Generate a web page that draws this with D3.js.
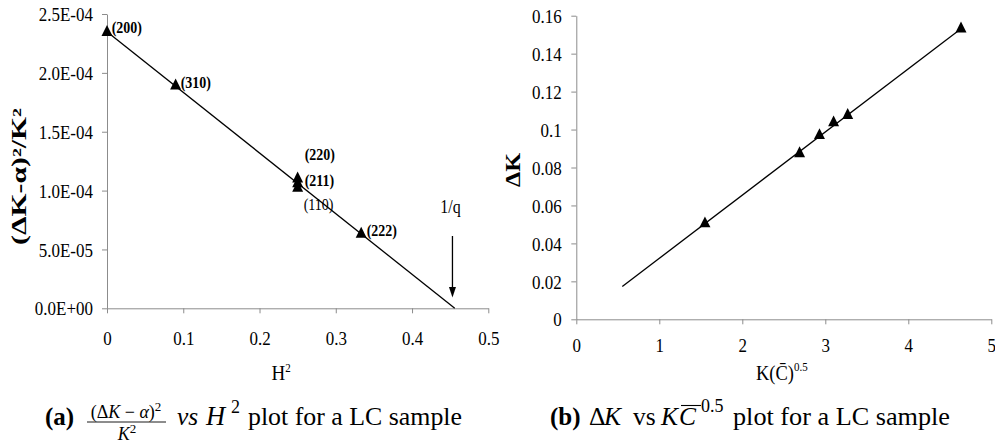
<!DOCTYPE html>
<html><head><meta charset="utf-8">
<script src="https://cdn.jsdelivr.net/npm/d3@7/dist/d3.min.js"></script>
<style>
html,body{margin:0;padding:0;background:#fff;}
svg{display:block;}
</style></head>
<body>
<svg id="chart" width="995" height="446"></svg>
<script>
// ---------- Data: panel (a) ----------
const hklLabels = ["(200)", "(310)", "(220)", "(211)", "(110)", "(222)"];
const hklBold   = [true, true, true, true, false, true];
const h2Values  = [0, 0.09, 0.25, 0.25, 0.25, 0.3333];
const yAValues  = [2.345e-4, 1.89e-4, 1.10e-4, 1.06e-4, 1.02e-4, 6.3e-5];
const fitAX     = [0, 0.456];
const fitAY     = [2.35e-4, 0];
const arrowQX   = 0.453;
const xTicksA   = [0, 0.1, 0.2, 0.3, 0.4, 0.5];
const yTicksA   = [0, 5e-5, 1e-4, 1.5e-4, 2e-4, 2.5e-4];

// ---------- Data: panel (b) ----------
const kcValues  = [1.55, 2.69, 2.93, 3.10, 3.27, 4.635];
const dKValues  = [0.0504, 0.0873, 0.0969, 0.1036, 0.1075, 0.1531];
const fitBX     = [0.554, 4.635];
const fitBY     = [0.0173, 0.1531];
const xTicksB   = [0, 1, 2, 3, 4, 5];
const yTicksB   = [0, 0.02, 0.04, 0.06, 0.08, 0.1, 0.12, 0.14, 0.16];

const serif = "'Liberation Serif','Times New Roman',serif";
const axisGray = "#8c8c8c";
const svg = d3.select("#chart");
const SY = 1.12; // vertical stretch of chart texts

function sciFmt(v) {
  if (v === 0) return "0.0E+00";
  const e = Math.floor(Math.log10(Math.abs(v)) + 1e-9);
  const m = v / Math.pow(10, e);
  const sign = e < 0 ? "-" : "+";
  const ae = Math.abs(e);
  return m.toFixed(1) + "E" + sign + (ae < 10 ? "0" : "") + ae;
}

function styleAxis(g, fs) {
  g.select(".domain").attr("stroke", axisGray);
  g.selectAll(".tick line").attr("stroke", axisGray);
  g.selectAll(".tick text").attr("fill", "#000").style("font-family", serif).style("font-size", fs + "px");
}

function txt(parent, x, y, s, o) {
  o = o || {};
  const t = parent.append("text").attr("x", x).attr("y", y).text(s)
    .style("font-family", serif)
    .style("font-size", (o.size || 16) + "px")
    .style("font-weight", o.weight || "normal")
    .style("font-style", o.style || "normal")
    .attr("text-anchor", o.anchor || "start")
    .attr("fill", "#000");
  return t;
}
function stxt(parent, x, y, s, o) {
  return txt(parent, 0, 0, s, o).attr("transform", `translate(${x},${y}) scale(1,${SY})`);
}

// ================= Panel (a) =================
const xA = d3.scaleLinear().domain([0, 0.5]).range([107, 488.3]);
const yA = d3.scaleLinear().domain([0, 2.5e-4]).range([308.3, 14]);
const gA = svg.append("g");

gA.append("g").attr("transform", `translate(0,${yA(0)})`)
  .call(d3.axisBottom(xA).tickValues(xTicksA).tickFormat(d3.format("")).tickSize(5).tickSizeOuter(0))
  .call(g => styleAxis(g, 17))
  .call(g => g.selectAll(".tick text").attr("y", 0).attr("dy", "0.35em").attr("transform", `translate(0,30) scale(1,${SY})`));

gA.append("g").attr("transform", `translate(${xA(0)},0)`)
  .call(d3.axisLeft(yA).tickValues(yTicksA).tickFormat(sciFmt).tickSize(5).tickSizeOuter(0).tickPadding(9))
  .call(g => styleAxis(g, 17))
  .call(g => g.selectAll(".tick text").attr("dy", "0.35em").attr("transform", `scale(1,${SY})`));

gA.append("path")
  .datum(fitAX.map((x, i) => [x, fitAY[i]]))
  .attr("d", d3.line().x(d => xA(d[0])).y(d => yA(d[1])))
  .attr("stroke", "#000").attr("stroke-width", 1.3).attr("fill", "none");

const tri = d3.symbol().type(d3.symbolTriangle).size(52);
gA.selectAll(".ptA").data(h2Values).join("path")
  .attr("d", tri)
  .attr("transform", (d, i) => `translate(${xA(d)},${yA(yAValues[i])}) scale(1,1.15)`)
  .attr("fill", "#000");

const hklDx = [4.7, 5, 7, 7, 6, 5.5];
const hklDy = [-5, -3, -24, -3, 16, -4];
h2Values.forEach((d, i) => {
  stxt(gA, xA(d) + hklDx[i], yA(yAValues[i]) + hklDy[i], hklLabels[i],
      {size: 14, weight: hklBold[i] ? "bold" : "normal"}).attr("dy", "0.35em");
});

const ax = xA(arrowQX);
gA.append("line").attr("x1", ax).attr("x2", ax).attr("y1", 236).attr("y2", 288)
  .attr("stroke", "#000").attr("stroke-width", 1.3);
gA.append("path").attr("d", `M${ax - 3.5},287 L${ax + 3.5},287 L${ax},297.5 Z`).attr("fill", "#000");
stxt(gA, ax - 2, 213, "1/q", {size: 16, anchor: "middle"});

const xtA = stxt(gA, 271.5, 380, "H", {size: 19});
xtA.append("tspan").attr("dy", -7).style("font-size", "11px").text("2");
txt(gA, 0, 0, "(ΔK-α)²/K²", {size: 20, weight: "bold", anchor: "middle"})
  .attr("transform", "translate(26,176.5) rotate(-90)")
  .attr("textLength", 137).attr("lengthAdjust", "spacingAndGlyphs");

// ================= Panel (b) =================
const xB = d3.scaleLinear().domain([0, 5]).range([576.3, 991.3]);
const yB = d3.scaleLinear().domain([0, 0.16]).range([319.3, 15.7]);
const gB = svg.append("g");

gB.append("g").attr("transform", `translate(0,${yB(0)})`)
  .call(d3.axisBottom(xB).tickValues(xTicksB).tickFormat(d3.format("")).tickSize(5).tickSizeOuter(0))
  .call(g => styleAxis(g, 17))
  .call(g => g.selectAll(".tick text").attr("y", 0).attr("dy", "0.35em").attr("transform", `translate(0,26) scale(1,${SY})`));

gB.append("g").attr("transform", `translate(${xB(0)},0)`)
  .call(d3.axisLeft(yB).tickValues(yTicksB).tickFormat(d3.format("")).tickSize(5).tickSizeOuter(0).tickPadding(9.6))
  .call(g => styleAxis(g, 17))
  .call(g => g.selectAll(".tick text").attr("dy", "0.35em").attr("transform", `scale(1,${SY})`));

gB.append("path")
  .datum(fitBX.map((x, i) => [x, fitBY[i]]))
  .attr("d", d3.line().x(d => xB(d[0])).y(d => yB(d[1])))
  .attr("stroke", "#000").attr("stroke-width", 1.3).attr("fill", "none");

gB.selectAll(".ptB").data(kcValues).join("path")
  .attr("d", tri)
  .attr("transform", (d, i) => `translate(${xB(d)},${yB(dKValues[i])}) scale(1,1.15)`)
  .attr("fill", "#000");

const xtB = stxt(gB, 756, 380, "K(C\u0304)", {size: 18.5});
xtB.append("tspan").attr("dy", -8).style("font-size", "11px").text("0.5");
txt(gB, 0, 0, "ΔK", {size: 20, weight: "bold", anchor: "middle"})
  .attr("transform", "translate(520,170) rotate(-90)")
  .attr("textLength", 34).attr("lengthAdjust", "spacingAndGlyphs");

// ================= Captions =================
const cap = svg.append("g");
const cs = 25.5;
txt(cap, 45, 425, "(a)", {size: 25, weight: "bold"});
const num = txt(cap, 126, 418, "", {size: 18, anchor: "middle"});
num.append("tspan").text("(Δ");
num.append("tspan").style("font-style", "italic").text("K");
num.append("tspan").text(" − ");
num.append("tspan").style("font-style", "italic").text("α");
num.append("tspan").text(")");
num.append("tspan").attr("dy", -7).style("font-size", "13px").text("2");
cap.append("line").attr("x1", 87).attr("x2", 166).attr("y1", 422).attr("y2", 422)
  .attr("stroke", "#000").attr("stroke-width", 0.9);
const den = txt(cap, 127, 440, "", {size: 18, anchor: "middle"});
den.append("tspan").style("font-style", "italic").text("K");
den.append("tspan").attr("dy", -7).style("font-size", "13px").text("2");
txt(cap, 177, 425, "vs", {size: cs, style: "italic"});
txt(cap, 206, 425, "H", {size: cs + 1, style: "italic"});
txt(cap, 231, 413, "2", {size: 18});
txt(cap, 248, 425, "plot for a LC sample", {size: cs}).attr("textLength", 214).attr("lengthAdjust", "spacingAndGlyphs");

txt(cap, 550, 425, "(b)", {size: 25, weight: "bold"});
txt(cap, 589, 425, "Δ", {size: cs});
txt(cap, 604, 425, "K", {size: cs, style: "italic"});
txt(cap, 633, 425, "vs", {size: cs});
txt(cap, 661, 425, "K", {size: cs, style: "italic"});
txt(cap, 679, 425, "C", {size: cs, style: "italic"});
cap.append("line").attr("x1", 681).attr("x2", 701).attr("y1", 405.5).attr("y2", 405.5)
  .attr("stroke", "#000").attr("stroke-width", 1.1);
txt(cap, 701, 412, "0.5", {size: 18});
txt(cap, 733, 425, "plot for a LC sample", {size: cs}).attr("textLength", 217).attr("lengthAdjust", "spacingAndGlyphs");
</script>
</body></html>
